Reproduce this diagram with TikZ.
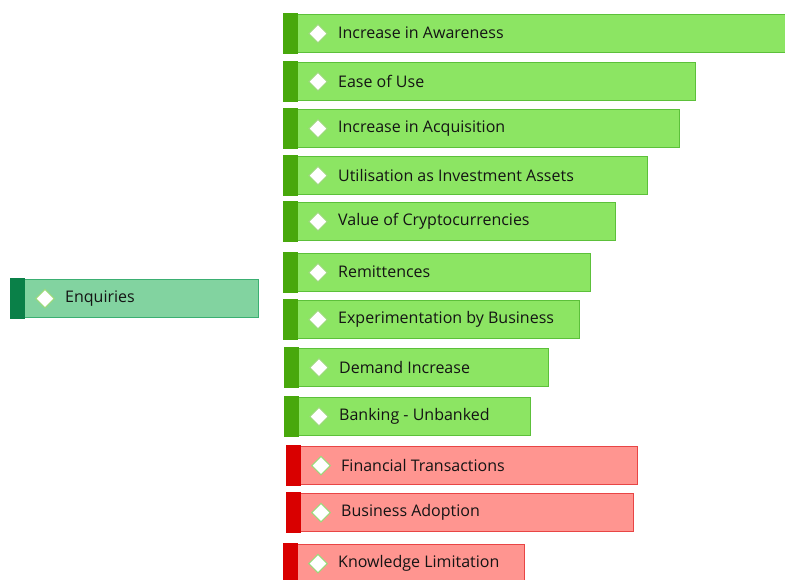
\documentclass[tikz,border=0pt]{standalone}
\usepackage{fontspec}
\setmainfont{Open Sans}
\usetikzlibrary{shapes.geometric}
\definecolor{gfill}{HTML}{8CE563}
\definecolor{gline}{HTML}{5CC03A}
\definecolor{gstrip}{HTML}{48A80C}
\definecolor{efill}{HTML}{82D3A0}
\definecolor{eline}{HTML}{3BAF72}
\definecolor{estrip}{HTML}{0A8048}
\definecolor{rfill}{HTML}{FF9590}
\definecolor{rline}{HTML}{E84545}
\definecolor{rstrip}{HTML}{D90000}
\definecolor{gemline}{HTML}{9BD97A}
\definecolor{txt}{HTML}{141414}
\tikzset{
  barbox/.style={rectangle, line width=1.2pt, anchor=north west, minimum height=38pt, inner sep=0pt},
  greenbar/.style={barbox, fill=gfill, draw=gline},
  enqbar/.style={barbox, fill=efill, draw=eline},
  redbar/.style={barbox, fill=rfill, draw=rline},
  gem/.style={diamond, draw=gemline, fill=white, line width=1.2pt, minimum width=19pt, minimum height=19pt, inner sep=0pt},
  lbl/.style={anchor=west, font=\fontsize{16}{19}\selectfont, text=txt, inner sep=0pt, yshift=0.5pt}
}
\newcommand\mybar[7]{%
  \node[#6, minimum width=#4pt] (#1) at (#2,#3) {};
  \fill[#7] ([shift={(-0.6pt,0.6pt)}]#1.north west) rectangle ([shift={(14pt,-0.6pt)}]#1.south west);
  \node[gem] (#1d) at ([xshift=34pt]#1.west) {};
  \node[lbl] (#1t) at ([xshift=54pt]#1.west) {#5};
}
\begin{document}
\begin{tikzpicture}[x=1pt,y=-1pt]
\useasboundingbox (0,0) rectangle (785,579);
\mybar{enq}{11}{279}{247}{Enquiries}{enqbar}{estrip}
\mybar{b1}{284}{14}{504}{Increase in Awareness}{greenbar}{gstrip}
\mybar{b2}{284}{62}{411}{Ease of Use}{greenbar}{gstrip}
\mybar{b3}{284}{109}{395}{Increase in Acquisition}{greenbar}{gstrip}
\mybar{b4}{284}{156}{363}{Utilisation as Investment Assets}{greenbar}{gstrip}
\mybar{b5}{284}{202}{331}{Value of Cryptocurrencies}{greenbar}{gstrip}
\mybar{b6}{284}{253}{306}{Remittences}{greenbar}{gstrip}
\mybar{b7}{284}{300}{295}{Experimentation by Business}{greenbar}{gstrip}
\mybar{b8}{285}{348}{263}{Demand Increase}{greenbar}{gstrip}
\mybar{b9}{285}{397}{245}{Banking - Unbanked}{greenbar}{gstrip}
\mybar{r1}{287}{446}{350}{Financial Transactions}{redbar}{rstrip}
\mybar{r2}{287}{493}{346}{Business Adoption}{redbar}{rstrip}
\mybar{r3}{284}{544}{240}{Knowledge Limitation}{redbar}{rstrip}
\end{tikzpicture}
\end{document}
